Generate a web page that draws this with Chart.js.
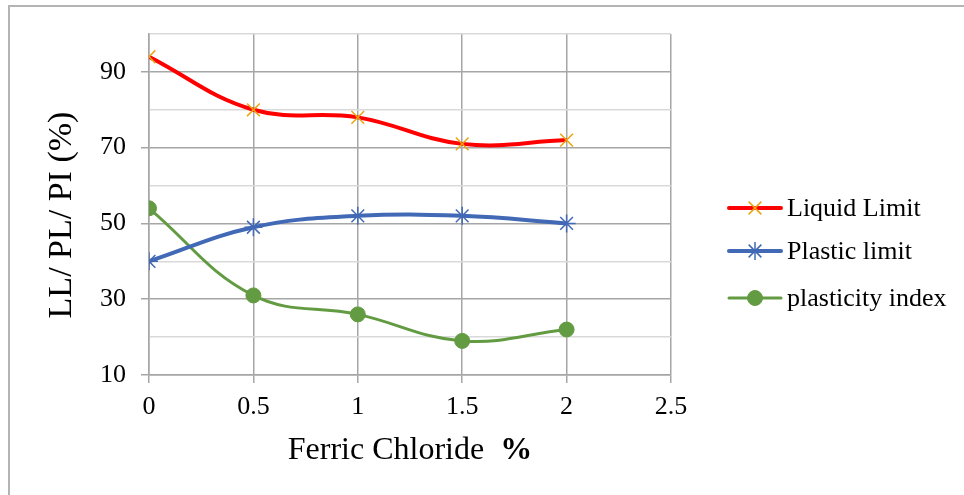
<!DOCTYPE html>
<html>
<head>
    <meta charset="UTF-8">
    <title>Chart</title>
    <script src="https://cdn.jsdelivr.net/npm/chart.js@4.4.0/dist/chart.umd.min.js"></script>
    <style>
        body { margin: 0; background: #fff; }
        #frame { position: absolute; left: 8px; top: 5px; width: 956px; height: 490px;
                 border-left: 2px solid #b4b4b4; border-top: 2px solid #b4b4b4; }
        canvas { position: absolute; left: 0; top: 0; }
    </style>
</head>
<body>
    <div id="frame"></div>
    <canvas id="myChart" width="964" height="495"></canvas>
    <script>
        // values
        var ferricChloride = [0, 0.5, 1, 1.5, 2];
        var liquidLimit = [94, 80, 78, 71, 72];
        var plasticLimit = [40, 49, 52, 52, 50];
        var plasticityIndex = [54, 31, 26, 19, 22];
        var seriesNames = ['Liquid Limit', 'Plastic limit', 'plasticity index'];
        var xTitle = 'Ferric Chloride  ';
        var xTitleBold = '%';
        var yTitle = 'LL/ PL/ PI (%)';

        var serif = '"Liberation Serif", "Times New Roman", serif';

        function pts(ys) {
            return ferricChloride.map(function (x, i) { return { x: x, y: ys[i] }; });
        }

        // legend drawn as line + marker, like the office chart
        var legendPlugin = {
            id: 'lineLegend',
            afterDraw: function (chart) {
                var ctx = chart.ctx;
                var rows = [208, 251, 298];
                chart.data.datasets.forEach(function (ds, i) {
                    var y = rows[i];
                    ctx.save();
                    ctx.strokeStyle = ds.borderColor;
                    ctx.lineWidth = ds.borderWidth;
                    ctx.lineCap = 'round';
                    ctx.beginPath();
                    ctx.moveTo(729, y);
                    ctx.lineTo(781, y);
                    ctx.stroke();
                    ctx.restore();
                    ctx.save();
                    ctx.fillStyle = ds.pointBackgroundColor;
                    ctx.strokeStyle = ds.pointBorderColor;
                    ctx.lineWidth = ds.pointBorderWidth;
                    Chart.helpers.drawPoint(ctx, {
                        pointStyle: ds.pointStyle, radius: ds.pointRadius,
                        borderWidth: ds.pointBorderWidth, rotation: 0
                    }, 755, y);
                    ctx.restore();
                    ctx.save();
                    ctx.fillStyle = '#000';
                    ctx.font = '26px ' + serif;
                    ctx.textBaseline = 'middle';
                    ctx.fillText(ds.label, 787, y + 1);
                    ctx.restore();
                });
            }
        };

        // axis titles (x title has a bold percent sign)
        var titlePlugin = {
            id: 'axisTitles',
            afterDraw: function (chart) {
                var ctx = chart.ctx;
                ctx.save();
                ctx.fillStyle = '#000';
                ctx.textBaseline = 'middle';
                ctx.font = '32px ' + serif;
                var wa = ctx.measureText(xTitle).width;
                ctx.font = 'bold 32px ' + serif;
                var wb = ctx.measureText(xTitleBold).width;
                var x0 = 410 - (wa + wb) / 2;
                ctx.font = '32px ' + serif;
                ctx.fillText(xTitle, x0, 451);
                ctx.font = 'bold 32px ' + serif;
                ctx.fillText(xTitleBold, x0 + wa, 451);

                ctx.translate(62, 215);
                ctx.rotate(-Math.PI / 2);
                ctx.textAlign = 'center';
                ctx.font = '34px ' + serif;
                ctx.fillText(yTitle, 0, 0);
                ctx.restore();
            }
        };

        function isMajor(v) { return (v - 10) % 20 === 0 && v < 100; }

        var ctx = document.getElementById('myChart').getContext('2d');
        new Chart(ctx, {
            type: 'line',
            data: {
                datasets: [{
                    label: seriesNames[0],
                    data: pts(liquidLimit),
                    borderColor: '#ff0000',
                    borderWidth: 4,
                    pointStyle: 'crossRot',
                    pointRadius: 9,
                    pointBorderColor: '#eba40e',
                    pointBackgroundColor: '#eba40e',
                    pointBorderWidth: 1.5,
                    tension: 0.4
                }, {
                    label: seriesNames[1],
                    data: pts(plasticLimit),
                    borderColor: '#4169b6',
                    borderWidth: 4,
                    pointStyle: 'star',
                    pointRadius: 9,
                    pointBorderColor: '#4169b6',
                    pointBackgroundColor: '#4169b6',
                    pointBorderWidth: 1.5,
                    tension: 0.4
                }, {
                    label: seriesNames[2],
                    data: pts(plasticityIndex),
                    borderColor: '#629b41',
                    borderWidth: 3,
                    pointStyle: 'circle',
                    pointRadius: 7.5,
                    pointBorderColor: '#629b41',
                    pointBackgroundColor: '#629b41',
                    pointBorderWidth: 1,
                    tension: 0.4
                }]
            },
            options: {
                responsive: false,
                animation: false,
                layout: { padding: { left: 30, right: 293, top: 34, bottom: 0 } },
                plugins: {
                    legend: { display: false },
                    tooltip: { enabled: false }
                },
                scales: {
                    x: {
                        type: 'linear',
                        min: 0,
                        max: 2.5,
                        ticks: {
                            stepSize: 0.5,
                            color: '#000',
                            font: { family: serif, size: 26 },
                            padding: 9,
                            maxRotation: 0,
                            callback: function (v) { return String(v); }
                        },
                        grid: { color: '#a6a6a6', tickColor: '#a6a6a6', tickLength: 8, lineWidth: 1.5 },
                        border: { color: '#a6a6a6', width: 1.5 },
                        afterFit: function (s) { s.height = 120; }
                    },
                    y: {
                        min: 10,
                        max: 100,
                        ticks: {
                            stepSize: 10,
                            color: '#000',
                            font: { family: serif, size: 26 },
                            padding: 15,
                            callback: function (v) { return isMajor(v) ? v : ''; }
                        },
                        grid: {
                            color: function (c) { return isMajor(c.tick.value) ? '#a6a6a6' : '#d9d9d9'; },
                            tickColor: function (c) { return isMajor(c.tick.value) ? '#a6a6a6' : 'rgba(0,0,0,0)'; },
                            tickLength: 8,
                            lineWidth: 1.5
                        },
                        border: { color: '#a6a6a6', width: 1.5 },
                        afterFit: function (s) { s.width = 119; }
                    }
                }
            },
            plugins: [legendPlugin, titlePlugin]
        });
    </script>
</body>
</html>
